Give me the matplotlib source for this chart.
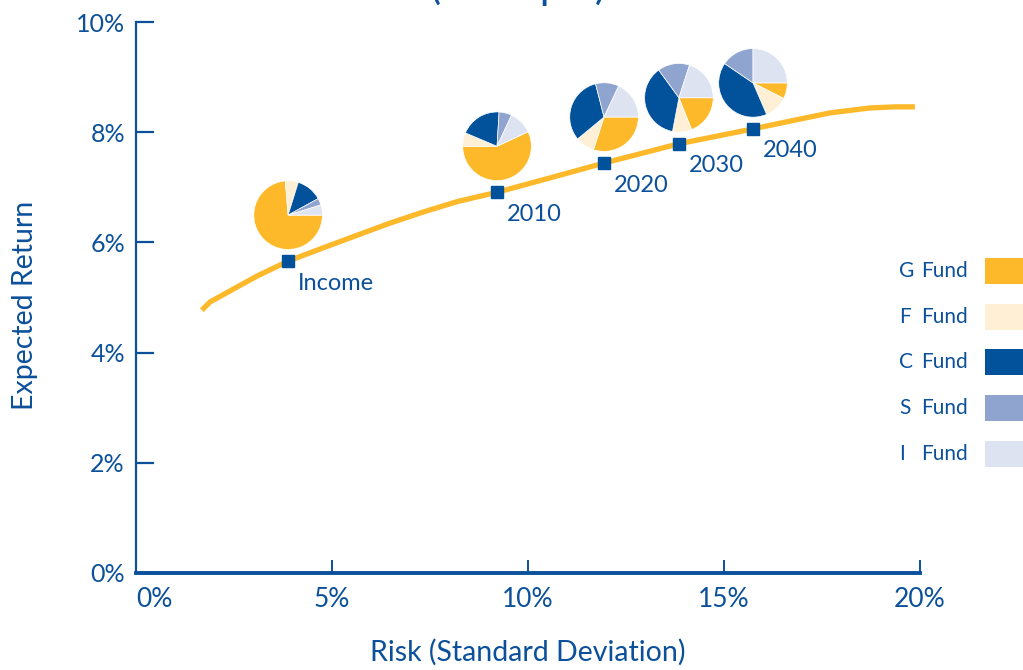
import matplotlib
matplotlib.use('Agg')
import matplotlib.pyplot as plt

# L Fund portfolios on the frontier
labels = ['Income', '2010', '2020', '2030', '2040']
risk = [3.88, 9.21, 11.94, 13.85, 15.74]
expected = [5.66, 6.91, 7.44, 7.79, 8.06]

# fund mix of each portfolio (%)
g_fund = [73.7, 56.9, 30.0, 19.0, 7.5]
f_fund = [6.1, 6.4, 9.0, 9.0, 11.0]
c_fund = [12.2, 19.6, 32.0, 37.0, 41.0]
s_fund = [3.2, 6.0, 11.0, 15.0, 15.5]
i_fund = [4.8, 11.1, 18.0, 20.0, 25.0]
fund_names = ['G', 'F', 'C', 'S', 'I']

# frontier curve
curve_x = [1.68, 1.89, 2.40, 3.09, 3.88, 4.77, 5.64, 6.48, 7.32, 8.19, 9.21,
           10.56, 11.94, 13.85, 15.74, 16.68, 17.70, 18.72, 19.36, 19.87]
curve_y = [4.77, 4.92, 5.12, 5.39, 5.66, 5.90, 6.13, 6.35, 6.55, 6.74, 6.91,
           7.17, 7.44, 7.79, 8.06, 8.20, 8.35, 8.44, 8.46, 8.46]

x_ticks = [0, 5, 10, 15, 20]
y_ticks = [0, 2, 4, 6, 8, 10]

BLUE = '#0B509A'
GOLD = '#FDB92A'
fund_colors = ['#FDB92A', '#FEEFD5', '#02519B', '#8FA4CF', '#DDE3F1']

plt.rcParams['font.family'] = ['Lato', 'DejaVu Sans']

W, H = 1023, 670
fig = plt.figure(figsize=(W / 100, H / 100), dpi=100)
ax = fig.add_axes([136 / W, (H - 573) / H, (920 - 136) / W, (573 - 22) / H])
ax.set_xlim(0, 20)
ax.set_ylim(0, 10)

for side in ['top', 'right']:
    ax.spines[side].set_visible(False)
ax.spines['left'].set_color(BLUE)
ax.spines['left'].set_linewidth(1.6)
ax.spines['bottom'].set_color(BLUE)
ax.spines['bottom'].set_linewidth(2.8)

ax.set_xticks(x_ticks)
ax.set_xticklabels([f'{v}%' for v in x_ticks])
ax.set_yticks(y_ticks)
ax.set_yticklabels([f'{v}%' for v in y_ticks])
ax.tick_params(axis='x', direction='in', length=9.5, width=1.4, color=BLUE,
               labelcolor=BLUE, labelsize=19, pad=10)
ax.tick_params(axis='y', direction='in', length=13, width=1.6, color=BLUE,
               labelcolor=BLUE, labelsize=18, pad=8)
ax.get_xticklabels()[0].set_horizontalalignment('left')
for t in ax.get_xticklabels() + ax.get_yticklabels():
    t.set_clip_on(False)

ax.plot(curve_x, curve_y, color=GOLD, linewidth=3.8, solid_capstyle='butt',
        solid_joinstyle='round', zorder=2)
ax.plot(risk, expected, linestyle='none', marker='s', markersize=8.5,
        color='#02519B', zorder=3)

for lab, x, y in zip(labels, risk, expected):
    ax.annotate(lab, (x, y), xytext=(10, -22), textcoords='offset pixels',
                ha='left', va='center', fontsize=17, color=BLUE)

ax.set_xlabel('Risk (Standard Deviation)', fontsize=20.5, color=BLUE)
ax.xaxis.set_label_coords(0.5, -0.12)
ax.set_ylabel('Expected Return', fontsize=20.5, color=BLUE)
ax.yaxis.set_label_coords(-0.125, 0.486)

# pies sit above each marker
fig.canvas.draw()
r = 35
start = [0, 25, 0, 0, 0]
for k in range(len(labels)):
    px, py = ax.transData.transform((risk[k], expected[k]))
    cx, cy = px, py + 46
    pax = fig.add_axes([(cx - r) / W, (cy - r) / H, 2 * r / W, 2 * r / H])
    vals = [g_fund[k], f_fund[k], c_fund[k], s_fund[k], i_fund[k]]
    pax.pie(vals, colors=fund_colors, startangle=start[k], counterclock=False,
            radius=1, wedgeprops=dict(edgecolor='white', linewidth=0.5))
    pax.set_xlim(-1.02, 1.02)
    pax.set_ylim(-1.02, 1.02)
    pax.axis('off')

# legend on the right
rows_y = [271, 317, 362, 408, 454]
for name, col, yy in zip(fund_names, fund_colors, rows_y):
    fy = (H - yy) / H
    fig.text(899 / W, fy, name, fontsize=15, color=BLUE, ha='left', va='center')
    fig.text(921 / W, fy, 'Fund', fontsize=15, color=BLUE, ha='left', va='center')
    fig.patches.append(matplotlib.patches.Rectangle(
        (985 / W, fy - 13 / H), 45 / W, 26 / H, transform=fig.transFigure,
        facecolor=col, edgecolor='none'))

# title, mostly cut off above the frame as in the source
fig.text(518 / W, 1 + 1 / H, '(Example)', fontsize=30, color=BLUE,
         ha='center', va='baseline')

fig.savefig('out.png', dpi=100)
